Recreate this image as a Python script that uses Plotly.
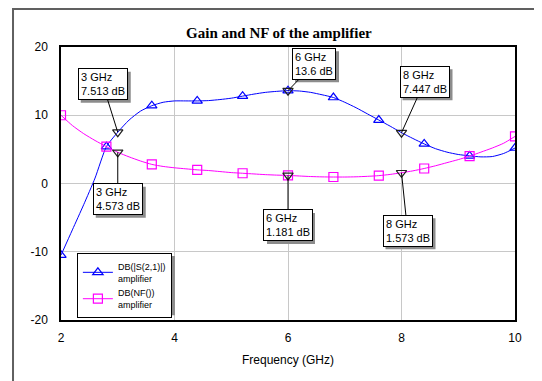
import plotly.graph_objects as go

# ---------------- data ----------------
freq = [2.0, 2.2, 2.4, 2.6, 2.8, 3.0, 3.2, 3.4, 3.6, 3.8, 4.0, 4.2, 4.4, 4.6, 4.8,
        5.0, 5.2, 5.4, 5.6, 5.8, 6.0, 6.2, 6.4, 6.6, 6.8, 7.0, 7.2, 7.4, 7.6, 7.8,
        8.0, 8.2, 8.4, 8.6, 8.8, 9.0, 9.2, 9.4, 9.6, 9.8, 10.0]
gain_db = [-10.5, -6.8, -3.1, 0.8, 5.4, 7.513, 9.3, 10.6, 11.4, 11.9, 12.1, 12.1, 12.1,
           12.15, 12.3, 12.5, 12.8, 13.1, 13.35, 13.5, 13.6, 13.55, 13.35, 13.0, 12.6,
           11.9, 11.1, 10.2, 9.3, 8.4, 7.447, 6.6, 5.8, 5.1, 4.6, 4.25, 4.05, 3.9, 3.95,
           4.4, 5.2]
nf_db = [10.0, 8.5, 7.3, 6.3, 5.4, 4.573, 3.9, 3.3, 2.8, 2.5, 2.3, 2.15, 2.0, 1.9, 1.75,
         1.6, 1.5, 1.4, 1.3, 1.23, 1.181, 1.1, 1.02, 0.97, 0.95, 0.95, 0.98, 1.05, 1.15,
         1.33, 1.573, 1.85, 2.2, 2.6, 3.05, 3.5, 4.0, 4.6, 5.2, 5.9, 6.9]
marker_step = 4  # a symbol every 0.8 GHz

gain_name = "DB(|S(2,1)|)<br>amplifier"
nf_name = "DB(NF())<br>amplifier"

# data markers (frequency, value)
gain_mk_f = [3, 6, 8]
gain_mk_v = [7.513, 13.6, 7.447]
nf_mk_f = [3, 6, 8]
nf_mk_v = [4.573, 1.181, 1.573]

x_ticks = [2, 4, 6, 8, 10]
y_ticks = [-20, -10, 0, 10, 20]

BLUE = "#0000ff"
MAG = "#ff00ff"
FONT = "Liberation Sans"
SHADOW = "#8c8c8c"

fig = go.Figure()

for vals, color, sym, name in [(gain_db, BLUE, "triangle-up-open", gain_name),
                               (nf_db, MAG, "square-open", nf_name)]:
    fig.add_trace(go.Scatter(x=freq, y=vals, mode="lines",
                             line=dict(color=color, width=1, shape="spline", smoothing=0.6),
                             showlegend=False, hoverinfo="skip"))
    fig.add_trace(go.Scatter(x=freq[::marker_step], y=vals[::marker_step], mode="markers",
                             marker=dict(symbol=sym, color=color, size=9,
                                         line=dict(width=1.2, color=color)),
                             showlegend=False))
    fig.add_trace(go.Scatter(x=[None], y=[None], mode="lines+markers", name=name,
                             line=dict(color=color, width=1),
                             marker=dict(symbol=sym, color=color, size=9,
                                         line=dict(width=1.2, color=color))))

fig.add_trace(go.Scatter(x=gain_mk_f + nf_mk_f, y=gain_mk_v + nf_mk_v, mode="markers",
                         marker=dict(symbol="triangle-down-open", color="#202020", size=9,
                                     line=dict(width=1.2, color="#202020")),
                         showlegend=False))

# marker labels: (freq, value, ax, ay, box width)
labels = [
    (gain_mk_f[0], gain_mk_v[0], -15, -48, 50),
    (nf_mk_f[0], nf_mk_v[0], 0, 47, 50),
    (gain_mk_f[1], gain_mk_v[1], 26, -27, 44),
    (gain_mk_f[2], gain_mk_v[2], 23, -51, 50),
    (nf_mk_f[1], nf_mk_v[1], 0, 50, 48),
    (nf_mk_f[2], nf_mk_v[2], 6, 58, 50),
]
BOX_H = 31
for f, v, ax, ay, w in labels:
    txt = f"{f:g} GHz<br>{v:g} dB"
    # drop shadow
    fig.add_shape(type="rect", xref="x", yref="y", xsizemode="pixel", ysizemode="pixel",
                  xanchor=f, yanchor=v,
                  x0=ax - w / 2 + 3, x1=ax + w / 2 + 3,
                  y0=-(ay + BOX_H / 2 + 3), y1=-(ay - BOX_H / 2 + 3),
                  line=dict(width=0), fillcolor=SHADOW, layer="above")
    fig.add_annotation(x=f, y=v, text=txt, showarrow=True, ax=ax, ay=ay,
                       arrowcolor="#000000", arrowwidth=1, arrowhead=0, align="left",
                       font=dict(family=FONT, size=11, color="#000000"),
                       bgcolor="#ffffff", bordercolor="#000000", borderwidth=1, borderpad=2)

# outer frame
fig.add_shape(type="rect", xref="paper", yref="paper", x0=-0.1057, x1=1.0507,
              y0=-0.4, y1=1.139, line=dict(color="#606060", width=2), layer="below")
# legend shadow
fig.add_shape(type="rect", xref="paper", yref="paper", x0=0.042, x1=0.251,
              y0=0.017, y1=0.234, line=dict(width=0), fillcolor=SHADOW, layer="above")

fig.update_layout(
    width=534, height=373,
    margin=dict(l=53, r=27, t=39, b=61),
    paper_bgcolor="white", plot_bgcolor="white",
    title=dict(text="<b>Gain and NF of the amplifier</b>", x=0.48, xref="paper",
               xanchor="center", y=1 - 25 / 373, yanchor="middle",
               font=dict(family="Liberation Serif", size=15, color="black")),
    font=dict(family=FONT, size=12, color="black"),
    showlegend=True,
    legend=dict(x=0.035, y=0.245, xanchor="left", yanchor="top",
                bgcolor="white", bordercolor="black", borderwidth=1,
                font=dict(family=FONT, size=9, color="black"),
                itemwidth=30, tracegroupgap=0),
    xaxis=dict(range=[2, 10], tickvals=x_ticks, ticktext=[str(t) for t in x_ticks],
               showgrid=True, gridcolor="#c8c8c8", gridwidth=1, zeroline=False,
               showline=True, mirror=True, linecolor="black", linewidth=1.5,
               ticks="", ticklabelstandoff=6,
               title=dict(text="Frequency (GHz)", standoff=11, font=dict(size=12))),
    yaxis=dict(range=[-20, 20], tickvals=y_ticks, ticktext=[str(t) for t in y_ticks],
               showgrid=True, gridcolor="#c8c8c8", gridwidth=1, zeroline=False,
               showline=True, mirror=True, linecolor="black", linewidth=1.5,
               ticks="", ticklabelstandoff=9),
)

fig.write_html("out.html")
